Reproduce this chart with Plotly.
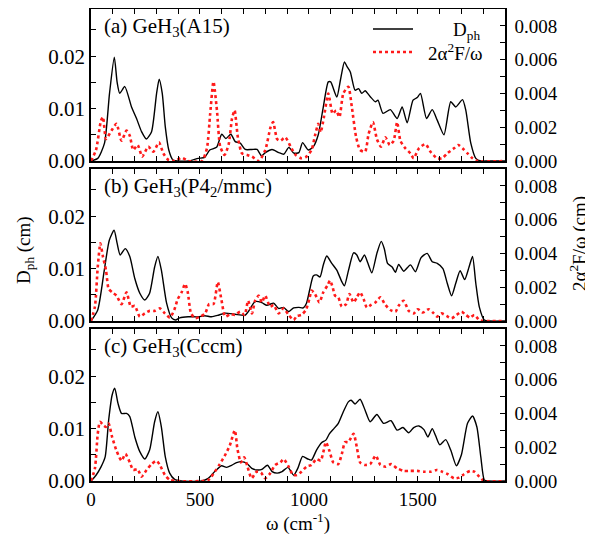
import plotly.graph_objects as go

# ---------------- data ----------------
# Panel (a) GeH3(A15)
a_dph_w = [0, 31, 62, 85, 107, 120, 132, 155, 186, 209, 232, 254, 278, 301, 313, 327, 341, 357, 376, 400, 447, 492, 522, 545, 576, 600, 619, 642, 662, 685, 708, 738, 762, 782, 800, 831, 862, 885, 908, 931, 954, 971, 997, 1020, 1043, 1066, 1089, 1100, 1128, 1145, 1163, 1175, 1190, 1212, 1228, 1243, 1258, 1281, 1305, 1317, 1340, 1374, 1405, 1428, 1451, 1478, 1497, 1512, 1540, 1566, 1589, 1620, 1651, 1674, 1705, 1720, 1743, 1766, 1789, 1820, 1900]
a_dph = [0, 0.0005, 0.0034, 0.0129, 0.0198, 0.0150, 0.0129, 0.0142, 0.0103, 0.0081, 0.0056, 0.0042, 0.0056, 0.0129, 0.0156, 0.0129, 0.0065, 0.0021, 0.0002, 0, 0, 0.0005, 0.0007, 0.0021, 0.0026, 0.0051, 0.0043, 0.0051, 0.0037, 0.0034, 0.0022, 0.0022, 0.0022, 0.0010, 0.0016, 0.0022, 0.0016, 0.0013, 0.0026, 0.0015, 0.0016, 0.0035, 0.0021, 0.0027, 0.0050, 0.0103, 0.0151, 0.0151, 0.0122, 0.0155, 0.0189, 0.0180, 0.0170, 0.0135, 0.0138, 0.0129, 0.0134, 0.0123, 0.0113, 0.0116, 0.0091, 0.0098, 0.0081, 0.0103, 0.0073, 0.0116, 0.0121, 0.0129, 0.0081, 0.0098, 0.0078, 0.0050, 0.0113, 0.0103, 0.0117, 0.0097, 0.0034, 0.0005, 0, 0, 0]
a_a2f_w = [0, 23, 46, 55, 69, 94, 117, 140, 163, 178, 194, 214, 235, 263, 286, 312, 332, 355, 386, 416, 447, 509, 532, 547, 562, 578, 593, 613, 632, 647, 659, 674, 693, 716, 739, 770, 800, 824, 836, 854, 869, 892, 916, 939, 966, 989, 1012, 1028, 1043, 1054, 1069, 1089, 1109, 1125, 1140, 1158, 1181, 1197, 1217, 1235, 1258, 1274, 1294, 1312, 1331, 1351, 1371, 1389, 1405, 1420, 1443, 1466, 1481, 1505, 1535, 1558, 1589, 1612, 1635, 1666, 1685, 1705, 1728, 1751, 1774, 1900]
a_a2f = [0, 0.00065, 0.0024, 0.0026, 0.0013, 0.0018, 0.0022, 0.0012, 0.0018, 0.0015, 0.00065, 0.00095, 0.00026, 0.00085, 0.00055, 0.0011, 0.00045, 0.00006, 0, 0.0002, 0, 0, 0.00075, 0.0028, 0.0047, 0.0030, 0.00085, 0.00036, 0.0010, 0.0025, 0.0030, 0.0014, 0.00045, 0.00036, 0.00026, 0, 0.00065, 0.0020, 0.0023, 0.0013, 0.0012, 0.0014, 0.00085, 0.00036, 0.00016, 0.00026, 0.00065, 0.0015, 0.0022, 0.0017, 0.0026, 0.0040, 0.0028, 0.0030, 0.0026, 0.0040, 0.0044, 0.0032, 0.0014, 0.00065, 0.00055, 0.0016, 0.0023, 0.0013, 0.00085, 0.0014, 0.00095, 0.0012, 0.0023, 0.0012, 0.00075, 0.00045, 0.00016, 0.00075, 0.0010, 0.00055, 0.00016, 0.00016, 0.00045, 0.00075, 0.00095, 0.00075, 0.00045, 0.00016, 0, 0]

# Panel (b) GeH3(P4_2/mmc)
b_dph_w = [0, 31, 61, 84, 106, 120, 134, 157, 178, 201, 224, 247, 269, 292, 307, 323, 347, 370, 388, 407, 446, 492, 522, 553, 584, 615, 661, 707, 722, 753, 784, 807, 838, 861, 884, 907, 930, 954, 974, 989, 1005, 1020, 1035, 1051, 1066, 1082, 1105, 1128, 1151, 1163, 1182, 1205, 1220, 1235, 1255, 1271, 1289, 1312, 1332, 1346, 1361, 1382, 1397, 1412, 1435, 1466, 1489, 1515, 1543, 1566, 1589, 1615, 1635, 1655, 1674, 1694, 1715, 1735, 1751, 1766, 1782, 1805, 1828, 1900]
b_dph = [0, 0.0021, 0.0097, 0.0154, 0.0173, 0.0148, 0.0126, 0.0138, 0.0123, 0.0081, 0.0053, 0.0040, 0.0053, 0.0103, 0.0123, 0.0097, 0.0034, 0.0006, 0.0002, 0.0006, 0.0008, 0.0008, 0.0010, 0.0008, 0.0011, 0.0015, 0.0013, 0.0011, 0.0018, 0.0037, 0.0035, 0.0030, 0.0034, 0.0024, 0.0026, 0.0018, 0.0025, 0.0026, 0.0025, 0.0034, 0.0062, 0.0086, 0.0088, 0.0084, 0.0107, 0.0124, 0.0110, 0.0097, 0.0075, 0.0067, 0.0097, 0.0130, 0.0126, 0.0113, 0.0126, 0.0110, 0.0092, 0.0129, 0.0152, 0.0138, 0.0110, 0.0103, 0.0093, 0.0108, 0.0095, 0.0107, 0.0094, 0.0121, 0.0129, 0.0113, 0.0110, 0.0100, 0.0072, 0.0048, 0.0072, 0.0096, 0.0079, 0.0103, 0.0123, 0.0072, 0.0027, 0.0002, 0, 0]
b_a2f_w = [0, 18, 31, 43, 55, 69, 81, 97, 117, 140, 163, 183, 201, 224, 247, 269, 292, 316, 339, 362, 382, 398, 416, 432, 444, 459, 478, 501, 524, 542, 562, 582, 598, 616, 639, 661, 685, 705, 721, 739, 753, 770, 784, 799, 822, 838, 861, 884, 907, 930, 945, 966, 986, 1002, 1012, 1028, 1048, 1066, 1085, 1097, 1109, 1120, 1135, 1151, 1171, 1186, 1205, 1220, 1235, 1251, 1266, 1285, 1305, 1328, 1351, 1374, 1397, 1412, 1435, 1458, 1481, 1500, 1523, 1550, 1569, 1589, 1609, 1632, 1655, 1678, 1701, 1720, 1740, 1759, 1782, 1805, 1900]
b_a2f = [0, 0.00085, 0.0032, 0.0046, 0.0038, 0.0030, 0.0019, 0.0017, 0.0015, 0.0010, 0.0017, 0.00085, 0.0009, 0.00026, 0.00045, 0.0006, 0.0006, 0.00075, 0.00045, 0.0002, 0.00065, 0.0013, 0.0017, 0.0022, 0.0017, 0.00045, 0.00016, 0.00026, 0.00045, 0.0010, 0.0010, 0.0023, 0.0013, 0.00026, 0.0004, 0.00036, 0.00055, 0.00036, 0.0012, 0.00045, 0.0012, 0.0015, 0.0011, 0.0015, 0.00085, 0.00095, 0.00045, 0.00075, 0.00036, 0.00006, 0.0003, 0.00036, 0.00065, 0.0013, 0.0018, 0.0016, 0.0011, 0.0017, 0.0021, 0.0024, 0.0020, 0.0015, 0.0014, 0.00085, 0.0010, 0.0016, 0.0011, 0.0014, 0.0017, 0.0013, 0.0008, 0.00095, 0.0011, 0.0014, 0.00095, 0.00065, 0.00055, 0.0009, 0.0012, 0.0006, 0.00045, 0.0007, 0.0005, 0.0007, 0.0005, 0.00026, 0.00045, 0.0003, 0.00016, 0.00036, 0.00055, 0.00036, 0.0002, 0.00036, 0.00006, 0, 0]

# Panel (c) GeH3(Cccm)
c_dph_w = [0, 23, 46, 65, 81, 97, 109, 124, 140, 163, 178, 201, 224, 247, 269, 292, 307, 323, 341, 361, 384, 415, 507, 538, 568, 599, 622, 645, 668, 691, 714, 738, 761, 784, 810, 831, 854, 877, 904, 930, 950, 971, 995, 1012, 1035, 1058, 1078, 1094, 1115, 1135, 1158, 1181, 1194, 1212, 1235, 1258, 1281, 1312, 1343, 1377, 1405, 1432, 1458, 1481, 1505, 1528, 1546, 1566, 1582, 1601, 1628, 1651, 1677, 1700, 1728, 1751, 1771, 1789, 1805, 1820, 1900]
c_dph = [0, 0.0011, 0.0027, 0.0046, 0.0116, 0.0164, 0.0177, 0.0148, 0.0129, 0.0129, 0.0123, 0.0084, 0.0056, 0.0042, 0.0059, 0.0113, 0.0132, 0.0103, 0.0046, 0.0015, 0.0003, 0, 0, 0.0005, 0.0018, 0.0029, 0.0026, 0.0030, 0.0035, 0.0037, 0.0034, 0.0024, 0.0021, 0.0022, 0.0030, 0.0018, 0.0015, 0.0018, 0.0026, 0.0011, 0.0025, 0.0047, 0.0042, 0.0040, 0.0059, 0.0073, 0.0078, 0.0090, 0.0100, 0.0110, 0.0132, 0.0151, 0.0154, 0.0147, 0.0156, 0.0135, 0.0113, 0.0127, 0.0110, 0.0115, 0.0097, 0.0102, 0.0092, 0.0102, 0.0105, 0.0098, 0.0084, 0.0100, 0.0086, 0.0069, 0.0079, 0.0059, 0.0029, 0.0050, 0.0110, 0.0124, 0.0103, 0.0046, 0.0002, 0, 0]
c_a2f_w = [0, 18, 31, 41, 57, 69, 81, 97, 117, 140, 158, 178, 194, 214, 232, 255, 278, 301, 316, 339, 362, 393, 538, 568, 591, 614, 637, 660, 672, 688, 703, 718, 737, 760, 780, 799, 822, 845, 869, 884, 907, 927, 945, 966, 989, 1012, 1035, 1054, 1066, 1078, 1094, 1112, 1135, 1151, 1166, 1181, 1205, 1220, 1235, 1258, 1281, 1307, 1328, 1351, 1377, 1405, 1435, 1466, 1497, 1528, 1558, 1586, 1612, 1638, 1666, 1689, 1712, 1740, 1759, 1782, 1805, 1900]
c_a2f = [0, 0.00075, 0.0028, 0.0035, 0.0033, 0.0032, 0.0034, 0.0026, 0.0018, 0.0012, 0.0016, 0.0011, 0.00065, 0.0007, 0.00026, 0.00065, 0.0010, 0.0012, 0.00095, 0.00036, 0.00006, 0, 0.00006, 0.00055, 0.0010, 0.0015, 0.0021, 0.0030, 0.0019, 0.0011, 0.0014, 0.00085, 0.00016, 0.00055, 0.0005, 0.00016, 0.00045, 0.00095, 0.0011, 0.0013, 0.00085, 0.00036, 0.00036, 0.00055, 0.00085, 0.00095, 0.0013, 0.0012, 0.0017, 0.0023, 0.0018, 0.0011, 0.0010, 0.0016, 0.0023, 0.0023, 0.0028, 0.0020, 0.0011, 0.00095, 0.0010, 0.0015, 0.00095, 0.00085, 0.0010, 0.00075, 0.0006, 0.0006, 0.0006, 0.00055, 0.00055, 0.00065, 0.00055, 0.0004, 0.00016, 0.0002, 0.0004, 0.0006, 0.00055, 0.00026, 0, 0]

panel_labels = ["(a) GeH<sub>3</sub>(A15)", "(b) GeH<sub>3</sub>(P4<sub>2</sub>/mmc)", "(c) GeH<sub>3</sub>(Cccm)"]
legend_labels = ["D<sub>ph</sub>", "2α<sup>2</sup>F/ω"]
x_ticks = [0, 500, 1000, 1500]
left_ticks = [0, 0.01, 0.02]
right_ticks = [0, 0.002, 0.004, 0.006, 0.008]

# ---------------- figure ----------------
# the page body has an 8 px default margin, so the figure is drawn 8 px smaller
OFF = 8
FONT = "Liberation Serif"
W, H = 593 - OFF, 536 - OFF
ML, MR, MT, MB = 91 - OFF, 88, 9 - OFF, 55
PW = W - ML - MR
PH = H - MT - MB
domains = [[1 - 152 / PH, 1.0], [1 - 312 / PH, 1 - 160 / PH], [0.0, 1 - 320 / PH]]

def px_x(px):
    return (px - OFF - ML) / PW

def px_y(py):
    return 1 - (py - OFF - MT) / PH

BLACK_LINE = dict(color="black", width=1.4)
RED_LINE = dict(color="#ff1a1a", width=2.6, dash="dot")

panels = [(a_dph_w, a_dph, a_a2f_w, a_a2f), (b_dph_w, b_dph, b_a2f_w, b_a2f), (c_dph_w, c_dph, c_a2f_w, c_a2f)]

fig = go.Figure()
layout = dict(width=W, height=H, margin=dict(l=ML, r=MR, t=MT, b=MB, autoexpand=False),
              plot_bgcolor="white", paper_bgcolor="white", showlegend=False,
              font=dict(family=FONT, size=19, color="black"))

tick_common = dict(ticks="inside", ticklen=5, tickwidth=1.2, tickcolor="black",
                   showline=True, linewidth=1.6, linecolor="black",
                   showgrid=False, zeroline=False, automargin=False)

for i, (dw, d, aw, a) in enumerate(panels):
    xn = "" if i == 0 else str(i + 1)
    yl = str(2 * i + 1) if i > 0 else ""
    yr = str(2 * i + 2)
    fig.add_trace(go.Scatter(x=dw, y=d, mode="lines", name=legend_labels[0],
                             line=dict(**BLACK_LINE, shape="spline", smoothing=0.6),
                             xaxis="x" + xn, yaxis="y" + yl))
    fig.add_trace(go.Scatter(x=aw, y=a, mode="lines", name=legend_labels[1],
                             line=dict(**RED_LINE, shape="spline", smoothing=0.6),
                             xaxis="x" + xn, yaxis="y" + yr))
    layout["xaxis" + xn] = dict(domain=[0, 1], anchor="y" + yl, range=[0, 1900],
                                tickvals=x_ticks, showticklabels=(i == 2), mirror="ticks",
                                minor=dict(dtick=100, tick0=0, ticks="inside", ticklen=5, tickwidth=1.2, tickcolor="black"),
                                tickfont=dict(size=19), **tick_common)
    layout["yaxis" + yl] = dict(domain=domains[i], anchor="x" + xn, range=[0, 0.029],
                                tickvals=left_ticks, tickformat=".2f",
                                minor=dict(dtick=0.005, tick0=0, ticks="inside", ticklen=5, tickwidth=1.2, tickcolor="black"),
                                tickfont=dict(size=21), **tick_common)
    layout["yaxis" + yr] = dict(domain=domains[i], anchor="x" + xn, overlaying="y" + yl, side="right",
                                range=[0, 0.009], tickvals=right_ticks, tickformat=".3f", ticklabelstandoff=4,
                                minor=dict(dtick=0.001, tick0=0, ticks="inside", ticklen=5, tickwidth=1.2, tickcolor="black"),
                                tickfont=dict(size=19), **tick_common)

layout["xaxis3"]["title"] = dict(text="ω (cm<sup>-1</sup>)", font=dict(size=19), standoff=2)

annotations = []
label_py = [27, 187, 347]
for i, t in enumerate(panel_labels):
    annotations.append(dict(text=t, xref="paper", yref="paper", x=px_x(102), y=px_y(label_py[i]),
                            xanchor="left", yanchor="middle", showarrow=False, font=dict(size=21)))
annotations.append(dict(text="D<sub>ph</sub> (cm)", xref="paper", yref="paper", x=px_x(25), y=px_y(250),
                        xanchor="center", yanchor="middle", textangle=-90, showarrow=False, font=dict(size=19)))
annotations.append(dict(text="2α<sup>2</sup>F/ω (cm)", xref="paper", yref="paper", x=px_x(578), y=px_y(244),
                        xanchor="center", yanchor="middle", textangle=-90, showarrow=False, font=dict(size=19)))
# legend (key): labels right-aligned, samples to the left
annotations.append(dict(text=legend_labels[0], xref="paper", yref="paper", x=px_x(482), y=px_y(31),
                        xanchor="right", yanchor="middle", showarrow=False, font=dict(size=19)))
annotations.append(dict(text=legend_labels[1], xref="paper", yref="paper", x=px_x(484), y=px_y(52),
                        xanchor="right", yanchor="middle", showarrow=False, font=dict(size=19)))
layout["annotations"] = annotations
layout["shapes"] = [
    dict(type="line", xref="paper", yref="paper", x0=px_x(373), x1=px_x(413), y0=px_y(29), y1=px_y(29), line=BLACK_LINE),
    dict(type="line", xref="paper", yref="paper", x0=px_x(373), x1=px_x(413), y0=px_y(52), y1=px_y(52), line=RED_LINE),
]

fig.update_layout(**layout)
fig.write_html("out.html")
